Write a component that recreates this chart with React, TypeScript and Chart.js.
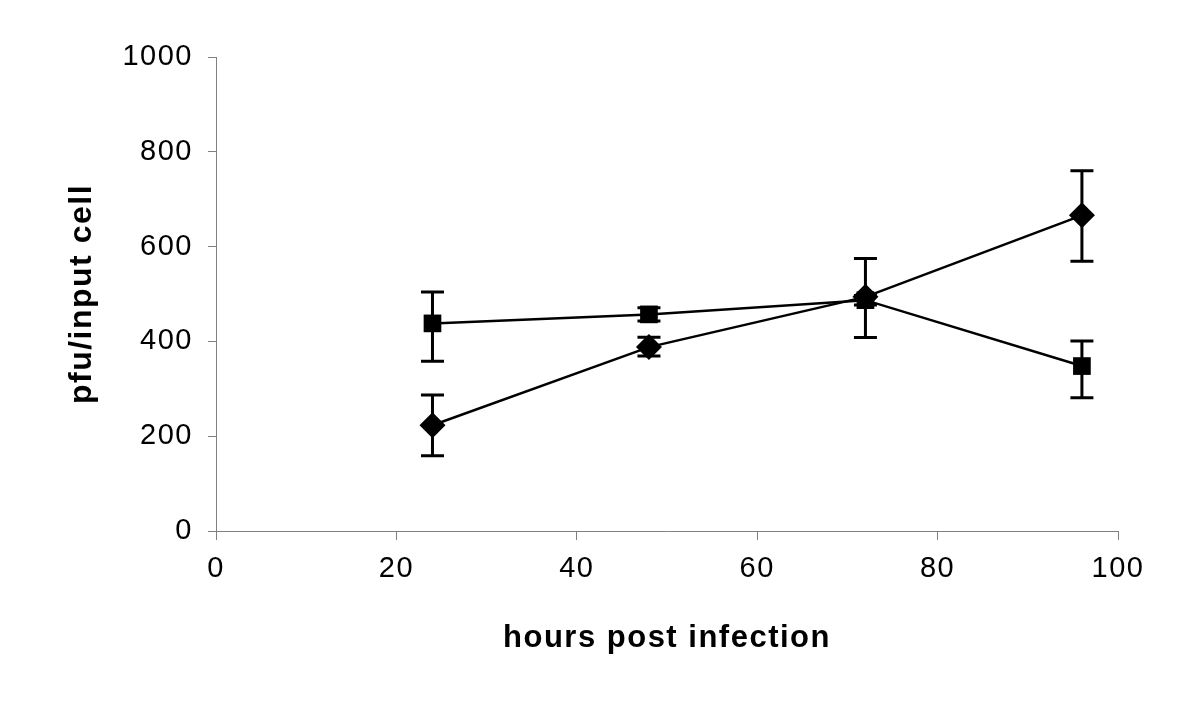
import React, { useEffect, useRef } from "react";
import { Chart, registerables } from "chart.js";

Chart.register(...registerables);

// ---- data ----
const hours = [24, 48, 72, 96];
const squareValues = [438, 457, 487, 348];
const squareLow = [358, 443, 477, 281];
const squareHigh = [504, 471, 497, 401];
const diamondValues = [223, 388, 494, 666];
const diamondLow = [159, 369, 408, 569];
const diamondHigh = [287, 409, 575, 760];
const xTicks = [0, 20, 40, 60, 80, 100];
const yTicks = [0, 200, 400, 600, 800, 1000];
const xTitle = "hours post infection";
const yTitle = "pfu/input cell";

const FONT = "'Liberation Sans', Arial, sans-serif";

const errorBarPlugin = {
  id: "errorBars",
  beforeDatasetsDraw(chart: any) {
    const { ctx, scales } = chart;
    const xs = scales.x;
    const ys = scales.y;
    ctx.save();
    ctx.strokeStyle = "#000";
    ctx.lineWidth = 3;
    ctx.lineCap = "butt";
    chart.data.datasets.forEach((ds: any) => {
      const lows: number[] = ds.errLow;
      const highs: number[] = ds.errHigh;
      ds.data.forEach((pt: any, i: number) => {
        const x = xs.getPixelForValue(pt.x);
        const yl = ys.getPixelForValue(lows[i]);
        const yh = ys.getPixelForValue(highs[i]);
        const cap = 11.5;
        ctx.beginPath();
        ctx.moveTo(x, yl);
        ctx.lineTo(x, yh);
        ctx.moveTo(x - cap, yl);
        ctx.lineTo(x + cap, yl);
        ctx.moveTo(x - cap, yh);
        ctx.lineTo(x + cap, yh);
        ctx.stroke();
      });
    });
    ctx.restore();
  },
};

const spacingPlugin = {
  id: "spacing",
  beforeDraw(chart: any) {
    (chart.ctx as any).letterSpacing = "1.5px";
  },
  afterDraw(chart: any) {
    (chart.ctx as any).letterSpacing = "0px";
  },
};

export default function App() {
  const ref = useRef<HTMLCanvasElement | null>(null);

  useEffect(() => {
    if (!ref.current) return;
    const chart = new Chart(ref.current, {
      type: "line",
      data: {
        datasets: [
          {
            label: "square",
            data: hours.map((h, i) => ({ x: h, y: squareValues[i] })),
            errLow: squareLow,
            errHigh: squareHigh,
            borderColor: "#000",
            backgroundColor: "#000",
            borderWidth: 2.5,
            pointStyle: "rect",
            pointRadius: 12.5,
            pointHoverRadius: 12.5,
            pointBorderWidth: 0,
            pointBackgroundColor: "#000",
            tension: 0,
          } as any,
          {
            label: "diamond",
            data: hours.map((h, i) => ({ x: h, y: diamondValues[i] })),
            errLow: diamondLow,
            errHigh: diamondHigh,
            borderColor: "#000",
            backgroundColor: "#000",
            borderWidth: 2.5,
            pointStyle: "rectRot",
            pointRadius: 13,
            pointHoverRadius: 13,
            pointBorderWidth: 0,
            pointBackgroundColor: "#000",
            tension: 0,
          } as any,
        ],
      },
      options: {
        animation: false,
        responsive: false,
        events: [],
        layout: { padding: { top: 57, right: 82, left: 0, bottom: 0 } },
        plugins: { legend: { display: false }, tooltip: { enabled: false } },
        scales: {
          x: {
            type: "linear",
            min: 0,
            max: 100,
            afterBuildTicks: (s: any) => {
              s.ticks = xTicks.map((v) => ({ value: v }));
            },
            afterFit: (s: any) => {
              s.height = 181;
            },
            ticks: {
              color: "#000",
              font: { family: FONT, size: 29 },
              padding: 12,
              maxRotation: 0,
              callback: (v: any) => String(v),
            },
            grid: {
              display: true,
              drawOnChartArea: false,
              drawTicks: true,
              tickLength: 9,
              color: "#808080",
              lineWidth: 1,
            },
            border: { display: true, color: "#808080", width: 1 },
            title: {
              display: true,
              text: xTitle,
              color: "#000",
              font: { family: FONT, size: 31, weight: "bold" },
              padding: { top: 0, bottom: 55 },
            },
          },
          y: {
            type: "linear",
            min: 0,
            max: 1000,
            afterBuildTicks: (s: any) => {
              s.ticks = yTicks.map((v) => ({ value: v }));
            },
            afterFit: (s: any) => {
              s.width = 216;
            },
            ticks: {
              color: "#000",
              font: { family: FONT, size: 29 },
              padding: 15,
              callback: (v: any) => String(v),
            },
            grid: {
              display: true,
              drawOnChartArea: false,
              drawTicks: true,
              tickLength: 8,
              color: "#808080",
              lineWidth: 1,
            },
            border: { display: true, color: "#808080", width: 1 },
            title: {
              display: true,
              text: yTitle,
              color: "#000",
              font: { family: FONT, size: 32, weight: "bold" },
              padding: { top: 63, bottom: 0 },
            },
          },
        },
      } as any,
      plugins: [spacingPlugin, errorBarPlugin],
    });
    return () => chart.destroy();
  }, []);

  return (
    <div style={{ position: "absolute", left: 0, top: 0, width: 1200, height: 712, background: "#fff" }}>
      <canvas ref={ref} width={1200} height={712} style={{ display: "block" }} />
    </div>
  );
}
